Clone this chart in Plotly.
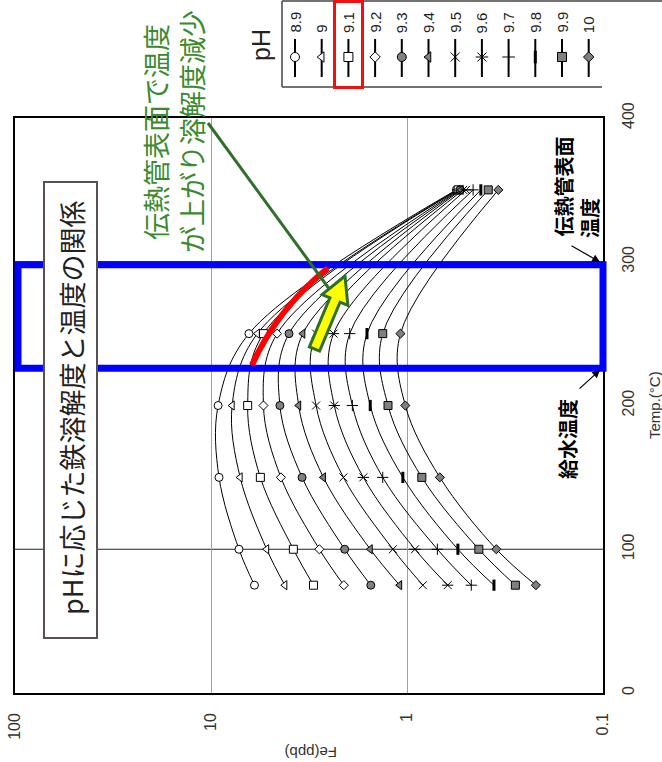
import plotly.graph_objects as go

W, H = 662, 762

# Temperature (°C) of the calculated points
temps = [75, 100, 150, 200, 250, 350]

# pH series
ph_labels = ["8.9", "9", "9.1", "9.2", "9.3", "9.4", "9.5", "9.6", "9.7", "9.8", "9.9", "10"]

# Fe solubility (ppb) for each pH at the temperatures above
fe_89 = [6.0, 7.2, 9.1, 9.2, 6.4, 0.56]
fe_90 = [4.2, 5.2, 7.1, 7.8, 5.8, 0.555]
fe_91 = [3.0, 3.8, 5.6, 6.5, 5.4, 0.548]
fe_92 = [2.1, 2.8, 4.4, 5.4, 4.6, 0.542]
fe_93 = [1.53, 2.08, 3.43, 4.45, 4.0, 0.535]
fe_94 = [1.09, 1.54, 2.67, 3.57, 3.4, 0.529]
fe_95 = [0.83, 1.18, 2.11, 2.91, 2.91, 0.517]
fe_96 = [0.62, 0.91, 1.67, 2.35, 2.37, 0.50]
fe_97 = [0.47, 0.70, 1.33, 1.90, 1.96, 0.46]
fe_98 = [0.36, 0.55, 1.05, 1.54, 1.60, 0.42]
fe_99 = [0.28, 0.43, 0.84, 1.25, 1.33, 0.385]
fe_100 = [0.22, 0.35, 0.68, 1.02, 1.08, 0.342]

fe_series = [fe_89, fe_90, fe_91, fe_92, fe_93, fe_94, fe_95, fe_96, fe_97, fe_98, fe_99, fe_100]

# Axis ticks
fe_ticks = [100, 10, 1, 0.1]
fe_ticktext = ["100", "10", "1", "0.1"]
temp_ticks = [0, 100, 200, 300, 400]

# Temperatures marked by the blue band
FEEDWATER_T = 226
TUBE_SURFACE_T = 298

GRAY = "#808080"
# (symbol, fill, line width, size) for each pH
styles = [
    ("circle", "white", 1, 8),
    ("triangle-left", "white", 1, 8),
    ("square", "white", 1, 8),
    ("diamond", "white", 1, 7),
    ("circle", GRAY, 1, 8),
    ("triangle-left", GRAY, 1, 8),
    ("x-thin-open", "black", 1, 8),
    ("x-thin-open", "black", 1, 8),
    ("cross-thin-open", "black", 1, 8),
    ("line-ns-open", "black", 3, 8),
    ("square", GRAY, 1, 8),
    ("diamond", GRAY, 1, 7),
]


def px(x):
    return x / W


def py(y):
    return 1 - y / H


fig = go.Figure()

for lab, fe, (sym, fill, lw, sz) in zip(ph_labels, fe_series, styles):
    fig.add_trace(go.Scatter(
        x=fe, y=temps, mode="lines+markers", name=lab,
        line=dict(color="black", width=1, shape="spline", smoothing=1),
        marker=dict(symbol=sym, color=fill, size=sz,
                    line=dict(color="black", width=lw)),
        xaxis="x", yaxis="y", showlegend=False, hoverinfo="skip",
    ))
    if lab == "9.6":
        fig.add_trace(go.Scatter(
            x=fe, y=temps, mode="markers",
            marker=dict(symbol="line-ew-open", size=8, color="black",
                        line=dict(color="black", width=1)),
            xaxis="x", yaxis="y", showlegend=False, hoverinfo="skip",
        ))

# Legend panel drawn on its own pixel-scaled axes
LEG_X0, LEG_X1, LEG_Y0, LEG_Y1 = 282, 602, 0, 88
leg_x = [295 + 26.7 * i for i in range(len(ph_labels))]
for i, (lab, (sym, fill, lw, sz)) in enumerate(zip(ph_labels, styles)):
    fig.add_trace(go.Scatter(
        x=[leg_x[i], leg_x[i]], y=[39, 77], mode="lines",
        line=dict(color="black", width=2),
        xaxis="x2", yaxis="y2", showlegend=False, hoverinfo="skip",
    ))
    fig.add_trace(go.Scatter(
        x=[leg_x[i]], y=[57], mode="markers",
        marker=dict(symbol=sym, color=fill, size=sz + 1,
                    line=dict(color="black", width=lw)),
        xaxis="x2", yaxis="y2", showlegend=False, hoverinfo="skip",
    ))
    if lab == "9.6":
        fig.add_trace(go.Scatter(
            x=[leg_x[i]], y=[57], mode="markers",
            marker=dict(symbol="line-ew-open", size=9, color="black",
                        line=dict(color="black", width=1)),
            xaxis="x2", yaxis="y2", showlegend=False, hoverinfo="skip",
        ))

annotations = []
shapes = []

# legend labels
for i, lab in enumerate(ph_labels):
    annotations.append(dict(
        x=px(leg_x[i]), y=py(35), xref="paper", yref="paper",
        text=lab, showarrow=False, textangle=-90,
        xanchor="center", yanchor="bottom",
        font=dict(family="Liberation Sans, Arial", size=15, color="#222"),
    ))
annotations.append(dict(
    x=px(261), y=py(45), xref="paper", yref="paper", text="pH",
    showarrow=False, textangle=-90, xanchor="center", yanchor="middle",
    font=dict(family="Liberation Sans, Arial", size=25, color="#222"),
))

# legend frame
for (x0, y0, x1, y1) in [(LEG_X0, 1, 662, 1), (LEG_X0, 87, LEG_X1, 87), (LEG_X0, 1, LEG_X0, 87)]:
    shapes.append(dict(type="line", xref="paper", yref="paper",
                       x0=px(x0), y0=py(y0), x1=px(x1), y1=py(y1),
                       line=dict(color="#444", width=1.5)))
# red frame around pH 9.1
shapes.append(dict(type="rect", xref="paper", yref="paper",
                   x0=px(334.5), y0=py(1.5), x1=px(362.5), y1=py(87.5),
                   line=dict(color="#ee1111", width=3)))

# horizontal temperature grid lines
for t in [100, 300]:
    shapes.append(dict(type="line", xref="x domain", yref="y",
                       x0=0, x1=1, y0=t, y1=t, layer="below",
                       line=dict(color="#222", width=1)))

# blue band between feedwater and tube surface temperatures
shapes.append(dict(type="rect", xref="paper", yref="y",
                   x0=px(18), x1=px(603), y0=FEEDWATER_T, y1=TUBE_SURFACE_T,
                   line=dict(color="#0000ff", width=7)))

# title box
shapes.append(dict(type="rect", xref="paper", yref="paper",
                   x0=px(44), x1=px(97), y0=py(182), y1=py(638),
                   fillcolor="white", line=dict(color="#595050", width=2)))
annotations.append(dict(
    x=px(71), y=py(408), xref="paper", yref="paper",
    text="pHに応じた鉄溶解度と温度の関係", showarrow=False, textangle=-90,
    xanchor="center", yanchor="middle",
    font=dict(family="Noto Sans CJK JP", size=27, color="#222"),
))

# red highlight along the curve inside the band
p0, c0, p1 = (252, 365), (278, 308), (328, 268)
shapes.append(dict(
    type="path", xref="paper", yref="paper",
    path=f"M {px(p0[0])},{py(p0[1])} Q {px(c0[0])},{py(c0[1])} {px(p1[0])},{py(p1[1])}",
    line=dict(color="#ff0000", width=6),
))

# green leader line
GREEN_LINE = "#2f6f2a"
shapes.append(dict(type="line", xref="paper", yref="paper",
                   x0=px(208), y0=py(123), x1=px(330), y1=py(290),
                   line=dict(color=GREEN_LINE, width=3)))

# yellow arrow
base, tip = (314.5, 349.0), (345.0, 276.0)
dx, dy = tip[0] - base[0], tip[1] - base[1]
L = (dx * dx + dy * dy) ** 0.5
ux, uy = dx / L, dy / L
nx, ny = -uy, ux
hb = (tip[0] - 26 * ux, tip[1] - 26 * uy)
sw, hw = 5.5, 14
pts = [
    (base[0] - sw * nx, base[1] - sw * ny),
    (hb[0] - sw * nx, hb[1] - sw * ny),
    (hb[0] - hw * nx, hb[1] - hw * ny),
    tip,
    (hb[0] + hw * nx, hb[1] + hw * ny),
    (hb[0] + sw * nx, hb[1] + sw * ny),
    (base[0] + sw * nx, base[1] + sw * ny),
]
path = "M " + " L ".join(f"{px(a)},{py(b)}" for a, b in pts) + " Z"
shapes.append(dict(type="path", xref="paper", yref="paper", path=path,
                   fillcolor="#ffff00", line=dict(color=GREEN_LINE, width=3)))

# green explanation text
GREEN_TEXT = "#3a8a30"
for x, txt in [(155, "伝熱管表面で温度"), (191, "が上がり溶解度減少")]:
    annotations.append(dict(
        x=px(x), y=py(132), xref="paper", yref="paper", text=txt,
        showarrow=False, textangle=-90, xanchor="center", yanchor="middle",
        font=dict(family="Noto Sans CJK JP", size=27, color=GREEN_TEXT),
    ))

# black labels with arrows to the band corners
annotations.append(dict(
    x=px(563), y=py(186.5), xref="paper", yref="paper", text="<b>伝熱管表面</b>",
    showarrow=False, textangle=-90, xanchor="center", yanchor="middle",
    font=dict(family="Noto Sans CJK JP", size=20, color="black"),
))
annotations.append(dict(
    x=px(589), y=py(218), xref="paper", yref="paper", text="<b>温度</b>",
    showarrow=False, textangle=-90, xanchor="center", yanchor="middle",
    font=dict(family="Noto Sans CJK JP", size=20, color="black"),
))
annotations.append(dict(
    x=px(567), y=py(439), xref="paper", yref="paper", text="<b>給水温度</b>",
    showarrow=False, textangle=-90, xanchor="center", yanchor="middle",
    font=dict(family="Noto Sans CJK JP", size=20, color="black"),
))
for head, tail in [((600, 262), (570, 245)), ((600, 370), (578, 390))]:
    annotations.append(dict(
        x=px(head[0]), y=py(head[1]), xref="paper", yref="paper", text="",
        showarrow=True, arrowhead=2, arrowsize=1.3, arrowwidth=1.2,
        arrowcolor="black", ax=tail[0] - head[0], ay=tail[1] - head[1],
        axref="pixel", ayref="pixel",
    ))

# axis titles
annotations.append(dict(
    x=px(311), y=py(753), xref="paper", yref="paper", text="Fe(ppb)",
    showarrow=False, textangle=180, xanchor="center", yanchor="middle",
    font=dict(family="Liberation Sans, Arial", size=15, color="#333"),
))
annotations.append(dict(
    x=px(654), y=py(405), xref="paper", yref="paper", text="Temp.(°C)",
    showarrow=False, textangle=-90, xanchor="center", yanchor="middle",
    font=dict(family="Liberation Sans, Arial", size=15, color="#333"),
))

tick_font = dict(family="Liberation Sans, Arial", size=16, color="#333")

fig.update_layout(
    width=W, height=H,
    margin=dict(l=0, r=0, t=0, b=0, autoexpand=False),
    paper_bgcolor="white",
    plot_bgcolor="rgba(0,0,0,0)",
    showlegend=False,
    xaxis=dict(
        type="log", range=[2, -1], domain=[px(15), px(603)],
        tickvals=fe_ticks, ticktext=fe_ticktext, tickangle=-90,
        tickfont=tick_font, ticks="", ticklabelstandoff=12,
        showgrid=True, gridcolor="#a0a0a0", gridwidth=1,
        showline=True, mirror=True, linecolor="black", linewidth=1.5,
        zeroline=False, anchor="y", automargin=False,
    ),
    yaxis=dict(
        range=[0, 400], domain=[py(693), py(118)], side="right",
        tickvals=temp_ticks, tickangle=-90, tickfont=tick_font,
        ticks="", ticklabelstandoff=10,
        showgrid=False, showline=True, mirror=True,
        linecolor="black", linewidth=1.5, zeroline=False, anchor="x",
        automargin=False,
    ),
    xaxis2=dict(
        range=[LEG_X0, LEG_X1], domain=[px(LEG_X0), px(LEG_X1)],
        visible=False, fixedrange=True, anchor="y2", automargin=False,
    ),
    yaxis2=dict(
        range=[LEG_Y1, LEG_Y0], domain=[py(LEG_Y1), py(LEG_Y0)],
        visible=False, fixedrange=True, anchor="x2", automargin=False,
    ),
    shapes=shapes,
    annotations=annotations,
)

fig.write_html("out.html")
